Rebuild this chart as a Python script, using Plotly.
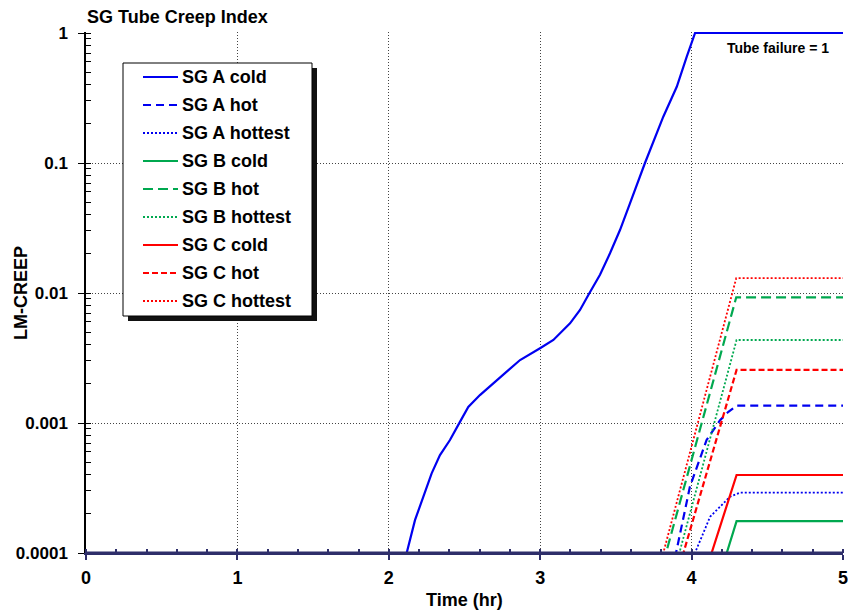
import plotly.graph_objects as go

# ---------------- data ----------------
t_a_cold = [0.0, 2.118, 2.173, 2.228, 2.283, 2.338, 2.404, 2.470, 2.525, 2.602, 2.690, 2.779,
            2.867, 2.999, 3.087, 3.197, 3.263, 3.318, 3.395, 3.461, 3.527, 3.593, 3.692,
            3.813, 3.902, 3.968, 4.023, 5.0]
v_a_cold = [1e-4, 1e-4, 1.79e-4, 2.71e-4, 4.10e-4, 5.67e-4, 7.40e-4, 1.02e-3, 1.33e-3, 1.64e-3,
            2.02e-3, 2.48e-3, 3.05e-3, 3.76e-3, 4.35e-3, 5.84e-3, 7.40e-3, 9.66e-3, 1.38e-2,
            2.02e-2, 3.05e-2, 4.90e-2, 0.100, 0.227, 0.386, 0.657, 1.0, 1.0]

t_a_hot = [0.0, 3.897, 3.989, 4.099, 4.188, 4.243, 4.298, 5.0]
v_a_hot = [1e-4, 1e-4, 3.24e-4, 7.40e-4, 1.05e-3, 1.22e-3, 1.36e-3, 1.36e-3]

t_a_hottest = [0.0, 4.022, 4.077, 4.122, 4.188, 4.254, 4.320, 5.0]
v_a_hottest = [1e-4, 1e-4, 1.42e-4, 1.90e-4, 2.27e-4, 2.71e-4, 2.91e-4, 2.91e-4]

t_b_cold = [0.0, 4.232, 4.297, 5.0]
v_b_cold = [1e-4, 1e-4, 1.76e-4, 1.76e-4]

t_b_hot = [0.0, 3.831, 4.295, 5.0]
v_b_hot = [1e-4, 1e-4, 9.27e-3, 9.27e-3]

t_b_hottest = [0.0, 3.919, 4.297, 5.0]
v_b_hottest = [1e-4, 1e-4, 4.35e-3, 4.35e-3]

t_c_cold = [0.0, 4.132, 4.297, 5.0]
v_c_cold = [1e-4, 1e-4, 3.98e-4, 3.98e-4]

t_c_hot = [0.0, 3.946, 4.297, 5.0]
v_c_hot = [1e-4, 1e-4, 2.56e-3, 2.56e-3]

t_c_hottest = [0.0, 3.813, 4.295, 5.0]
v_c_hottest = [1e-4, 1e-4, 1.30e-2, 1.30e-2]

series_names = ["SG A cold", "SG A hot", "SG A hottest",
                "SG B cold", "SG B hot", "SG B hottest",
                "SG C cold", "SG C hot", "SG C hottest"]

x_tick_vals = [0, 1, 2, 3, 4, 5]
y_tick_vals = [1e-4, 1e-3, 1e-2, 1e-1, 1]
y_tick_text = ["0.0001", "0.001", "0.01", "0.1", "1"]

# ---------------- styling ----------------
BLUE = "#0000F0"
GREEN = "#00A84F"
RED = "#FF0000"
NAVY = "#2E2E6A"
FONT = "Liberation Sans, Arial, sans-serif"

styles = [
    (BLUE, "solid", 2.2), (BLUE, "8px,5px", 2.2), (BLUE, "2px,2px", 1.8),
    (GREEN, "solid", 2.2), (GREEN, "10px,5px", 2.2), (GREEN, "2px,2px", 1.8),
    (RED, "solid", 2.2), (RED, "6px,3px", 2.2), (RED, "2px,2px", 1.8),
]
xs = [t_a_cold, t_a_hot, t_a_hottest, t_b_cold, t_b_hot, t_b_hottest, t_c_cold, t_c_hot, t_c_hottest]
ys = [v_a_cold, v_a_hot, v_a_hottest, v_b_cold, v_b_hot, v_b_hottest, v_c_cold, v_c_hot, v_c_hottest]

fig = go.Figure()
for i in range(9):
    c, d, w = styles[i]
    fig.add_trace(go.Scatter(
        x=xs[i], y=ys[i], mode="lines", name=series_names[i],
        line=dict(color=c, dash=d, width=w),
        showlegend=False, hoverinfo="skip",
    ))

W, H = 848, 613
L, R, T, B = 86, 5, 32, 60
pw, ph = W - L - R, H - T - B

def px_x(p):
    return (p - L) / pw

def px_y(p):
    return 1 - (p - T) / ph

# ---------------- legend (box with shadow, line samples, labels) ----------------
lg_l, lg_t, lg_r, lg_b = 123, 63, 312, 316
row0, row_gap = 77, 28
line_x0, line_x1, text_x = 143, 178, 180

shapes = [
    # navy floor line covering the series that sit at the lower limit
    dict(type="line", xref="paper", yref="paper", x0=0, x1=1, y0=0, y1=0,
         line=dict(color=NAVY, width=3), layer="above"),
    dict(type="rect", xref="paper", yref="paper",
         x0=px_x(lg_l + 5), x1=px_x(lg_r + 5), y0=px_y(lg_b + 5), y1=px_y(lg_t + 5),
         fillcolor="#111111", line=dict(width=0), layer="above"),
    dict(type="rect", xref="paper", yref="paper",
         x0=px_x(lg_l), x1=px_x(lg_r), y0=px_y(lg_b), y1=px_y(lg_t),
         fillcolor="white", line=dict(color="black", width=1), layer="above"),
]
annotations = []
for i, name in enumerate(series_names):
    c, d, w = styles[i]
    yy = px_y(row0 + i * row_gap)
    shapes.append(dict(type="line", xref="paper", yref="paper",
                       x0=px_x(line_x0), x1=px_x(line_x1), y0=yy, y1=yy,
                       line=dict(color=c, dash=d, width=w), layer="above"))
    annotations.append(dict(text=name, xref="paper", yref="paper",
                            x=px_x(text_x), y=yy, xanchor="left", yanchor="middle",
                            showarrow=False,
                            font=dict(family=FONT, size=18, weight="bold", color="black")))

annotations += [
    dict(text="SG Tube Creep Index", xref="paper", yref="paper",
         x=px_x(85), y=px_y(17), xanchor="left", yanchor="middle", showarrow=False,
         font=dict(family=FONT, size=18, weight="bold")),
    dict(text="Tube failure = 1", xref="paper", yref="paper",
         x=px_x(831), y=px_y(47.5), xanchor="right", yanchor="middle", showarrow=False,
         font=dict(family=FONT, size=14, weight="bold")),
    dict(text="Time (hr)", xref="paper", yref="paper",
         x=0.5, y=px_y(600), xanchor="center", yanchor="middle", showarrow=False,
         font=dict(family=FONT, size=18, weight="bold")),
    dict(text="LM-CREEP", xref="paper", yref="paper", textangle=-90,
         x=px_x(21), y=px_y(293), xanchor="center", yanchor="middle", showarrow=False,
         font=dict(family=FONT, size=18, weight="bold")),
]

# log range top extended by ~1px so the series sitting at 1 is not half clipped
y_top = 4.0 / 520.0

fig.update_layout(
    width=W, height=H,
    margin=dict(l=L, r=R, t=T, b=B, pad=0, autoexpand=False),
    paper_bgcolor="white", plot_bgcolor="white",
    font=dict(family=FONT, color="black"),
    showlegend=False,
    xaxis=dict(
        range=[0, 5], tickvals=x_tick_vals, ticktext=[str(v) for v in x_tick_vals],
        showgrid=True, gridcolor="#444444", griddash="1px,2px", gridwidth=1,
        showline=True, linecolor=NAVY, linewidth=2, mirror=False,
        ticks="outside", ticklen=5, tickcolor=NAVY, tickwidth=1.5,
        minor=dict(dtick=0.2, ticks="inside", ticklen=4, tickcolor=NAVY, showgrid=False),
        tickfont=dict(family=FONT, size=18, weight="bold"),
        ticklabelstandoff=2, automargin=False, ticklabeloverflow="allow",
        zeroline=False, fixedrange=True,
    ),
    yaxis=dict(
        type="log", range=[-4, y_top],
        tickvals=y_tick_vals, ticktext=y_tick_text,
        showgrid=True, gridcolor="#444444", griddash="1px,2px", gridwidth=1,
        showline=True, linecolor="black", linewidth=1.5, mirror=False,
        ticks="outside", ticklen=6, tickcolor="black", tickwidth=1.2,
        minor=dict(dtick="D1", ticks="inside", ticklen=5, tickcolor="black", showgrid=False),
        tickfont=dict(family=FONT, size=17, weight="bold"),
        ticklabelstandoff=7, automargin=False, ticklabeloverflow="allow",
        zeroline=False, fixedrange=True,
    ),
    shapes=shapes,
    annotations=annotations,
)

fig.write_html("out.html")
